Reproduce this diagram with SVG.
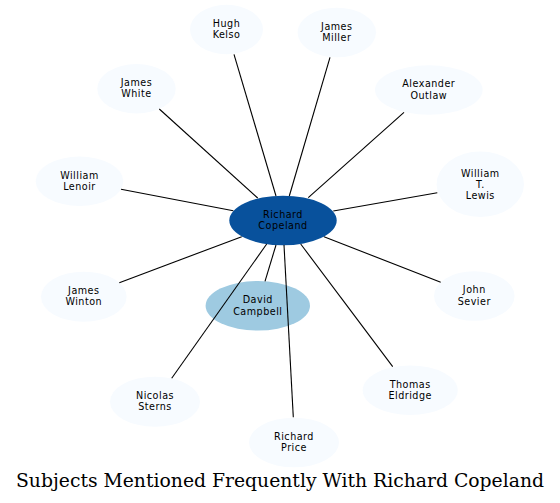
<svg xmlns="http://www.w3.org/2000/svg" width="560" height="503" viewBox="0 0 560 503">
<style>
.n ellipse{fill:#f7fbff;stroke:none}
.n text{font-family:"DejaVu Sans",sans-serif;font-size:9.6px;letter-spacing:0.5px;fill:#000;text-anchor:middle}
#edges line{stroke:#000;stroke-width:1.1}
.title{font-family:"DejaVu Serif","Liberation Serif",serif;font-size:18px;fill:#000;text-anchor:middle}
</style>
<rect width="560" height="503" fill="#fff"/>
<g id="node-richard-copeland" class="n"><ellipse cx="283" cy="220.5" rx="53.7" ry="24.8" style="fill:#08519c"/><text x="283" y="217.8">Richard</text><text x="283" y="229.2">Copeland</text></g>
<g id="node-david-campbell" class="n"><ellipse cx="257.8" cy="305.8" rx="52.2" ry="24.8" style="fill:#9ecae1"/><text x="257.8" y="303.1">David</text><text x="257.8" y="314.5">Campbell</text></g>
<g id="node-hugh-kelso" class="n"><ellipse cx="226.5" cy="29.5" rx="36.5" ry="24.7"/><text x="226.5" y="26.8">Hugh</text><text x="226.5" y="38.2">Kelso</text></g>
<g id="node-james-miller" class="n"><ellipse cx="336.8" cy="32.5" rx="39.2" ry="24.8"/><text x="336.8" y="29.8">James</text><text x="336.8" y="41.2">Miller</text></g>
<g id="node-james-white" class="n"><ellipse cx="136.5" cy="88.7" rx="39.2" ry="24.7"/><text x="136.5" y="86">James</text><text x="136.5" y="97.4">White</text></g>
<g id="node-alexander-outlaw" class="n"><ellipse cx="428.8" cy="90" rx="53.8" ry="24.7"/><text x="428.8" y="87.3">Alexander</text><text x="428.8" y="98.7">Outlaw</text></g>
<g id="node-william-lenoir" class="n"><ellipse cx="79.5" cy="181.3" rx="43.8" ry="24.7"/><text x="79.5" y="178.6">William</text><text x="79.5" y="190">Lenoir</text></g>
<g id="node-william-t-lewis" class="n"><ellipse cx="480.3" cy="184.3" rx="43.7" ry="32.7"/><text x="480.3" y="176.5">William</text><text x="480.3" y="187.9">T.</text><text x="480.3" y="199.3">Lewis</text></g>
<g id="node-james-winton" class="n"><ellipse cx="83.8" cy="296.7" rx="42.8" ry="25"/><text x="83.8" y="294">James</text><text x="83.8" y="305.4">Winton</text></g>
<g id="node-john-sevier" class="n"><ellipse cx="474.3" cy="296" rx="40.3" ry="24.8"/><text x="474.3" y="293.3">John</text><text x="474.3" y="304.7">Sevier</text></g>
<g id="node-nicolas-sterns" class="n"><ellipse cx="155" cy="401.7" rx="45" ry="25"/><text x="155" y="399">Nicolas</text><text x="155" y="410.4">Sterns</text></g>
<g id="node-thomas-eldridge" class="n"><ellipse cx="410.2" cy="390.2" rx="47.5" ry="24.8"/><text x="410.2" y="387.5">Thomas</text><text x="410.2" y="398.9">Eldridge</text></g>
<g id="node-richard-price" class="n"><ellipse cx="294" cy="442.5" rx="45" ry="24.8"/><text x="294" y="439.8">Richard</text><text x="294" y="451.2">Price</text></g>
<g id="edges">
<line x1="276" y1="196" x2="234" y2="54.3"/>
<line x1="289.3" y1="196" x2="330" y2="57.3"/>
<line x1="257.7" y1="198" x2="159.3" y2="109"/>
<line x1="308.3" y1="197.7" x2="404" y2="112.3"/>
<line x1="233.3" y1="210.7" x2="121" y2="189.3"/>
<line x1="333.3" y1="211" x2="437.3" y2="192.7"/>
<line x1="241.7" y1="236.7" x2="119.3" y2="282.7"/>
<line x1="324" y1="236.7" x2="440.7" y2="282.3"/>
<line x1="266.7" y1="244" x2="171.7" y2="378.3"/>
<line x1="276" y1="245" x2="265" y2="281.3"/>
<line x1="300.7" y1="244" x2="392.7" y2="366.7"/>
<line x1="284" y1="245" x2="293.3" y2="417.3"/>
</g>
<text class="title" x="280" y="487.3" textLength="528" lengthAdjust="spacingAndGlyphs">Subjects Mentioned Frequently With Richard Copeland</text>
</svg>
